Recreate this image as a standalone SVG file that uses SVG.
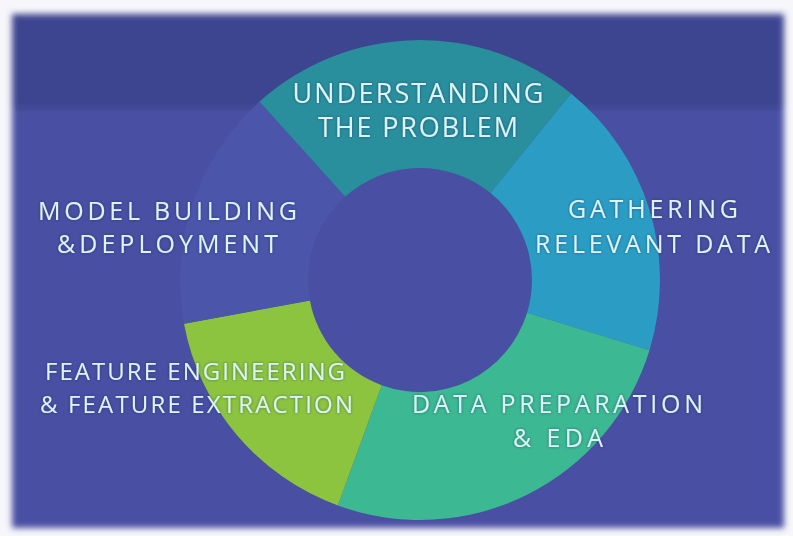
<svg xmlns="http://www.w3.org/2000/svg" width="793" height="536" viewBox="0 0 793 536">
  <defs>
    <filter id="soft" x="-5%" y="-5%" width="110%" height="110%">
      <feGaussianBlur stdDeviation="3"/>
    </filter>
    <filter id="tglow" x="-10%" y="-30%" width="120%" height="160%">
      <feGaussianBlur in="SourceAlpha" stdDeviation="1.5" result="b"/>
      <feFlood flood-color="#1c2260" flood-opacity="0.5"/>
      <feComposite in2="b" operator="in" result="s"/>
      <feMerge><feMergeNode in="s"/><feMergeNode in="SourceGraphic"/></feMerge>
    </filter>
  </defs>
  <style>
    .lbl { font-family: "Open Sans", "Noto Sans", "Liberation Sans", sans-serif; font-size: 25px; fill: #dcf4f3; text-anchor: middle; filter: url(#tglow); }
    .big { font-size: 27px; }
    .sm { font-size: 24px; }
    .seg { stroke: none; }
  </style>

  <!-- frame -->
  <rect x="0" y="0" width="793" height="536" fill="#f6f6fb"/>
  <g filter="url(#soft)">
    <rect x="12" y="14" width="772" height="514" fill="#4850a2"/>
    <rect x="12" y="14" width="772" height="94" fill="#3e4590"/>
  </g>
  <rect x="16" y="108" width="764" height="1.5" fill="#434a98" opacity="0.6"/>

  <!-- donut segments -->
  <g id="understanding">
    <path class="seg" fill="#2a8f9d" d="M259.4,101.7 A240,240 0 0 1 571.0,93.5 L490.5,193.0 A112,112 0 0 0 345.1,196.8 Z"/>
    <text class="lbl big" x="418" y="103" textLength="251" lengthAdjust="spacing">UNDERSTANDING</text>
    <text class="lbl big" x="418" y="137" textLength="200" lengthAdjust="spacing">THE PROBLEM</text>
  </g>
  <g id="gathering">
    <path class="seg" fill="#2b9dc4" d="M571.0,93.5 A240,240 0 0 1 649.5,350.2 L527.1,312.7 A112,112 0 0 0 490.5,193.0 Z"/>
    <text class="lbl" x="653" y="218" textLength="170" lengthAdjust="spacing">GATHERING</text>
    <text class="lbl" x="652.5" y="253" textLength="235" lengthAdjust="spacing">RELEVANT DATA</text>
  </g>
  <g id="data-preparation">
    <path class="seg" fill="#3cb893" d="M649.5,350.2 A240,240 0 0 1 337.9,505.5 L381.7,385.2 A112,112 0 0 0 527.1,312.7 Z"/>
    <text class="lbl" x="557.5" y="413" textLength="291" lengthAdjust="spacing">DATA PREPARATION</text>
    <text class="lbl" x="558" y="447" textLength="90" lengthAdjust="spacing">&amp; EDA</text>
  </g>
  <g id="feature-engineering">
    <path class="seg" fill="#8cc43f" d="M337.9,505.5 A240,240 0 0 1 184.0,323.7 L309.9,300.4 A112,112 0 0 0 381.7,385.2 Z"/>
    <text class="lbl sm" x="195" y="380" textLength="300" lengthAdjust="spacing">FEATURE ENGINEERING</text>
    <text class="lbl sm" x="196.5" y="413" textLength="313" lengthAdjust="spacing">&amp; FEATURE EXTRACTION</text>
  </g>
  <g id="model-building">
    <path class="seg" fill="#4b55aa" d="M184.0,323.7 A240,240 0 0 1 259.4,101.7 L345.1,196.8 A112,112 0 0 0 309.9,300.4 Z"/>
    <text class="lbl" x="167.5" y="220" textLength="259" lengthAdjust="spacing">MODEL BUILDING</text>
    <text class="lbl" x="167.5" y="253" textLength="221" lengthAdjust="spacing">&amp;DEPLOYMENT</text>
  </g>
</svg>
